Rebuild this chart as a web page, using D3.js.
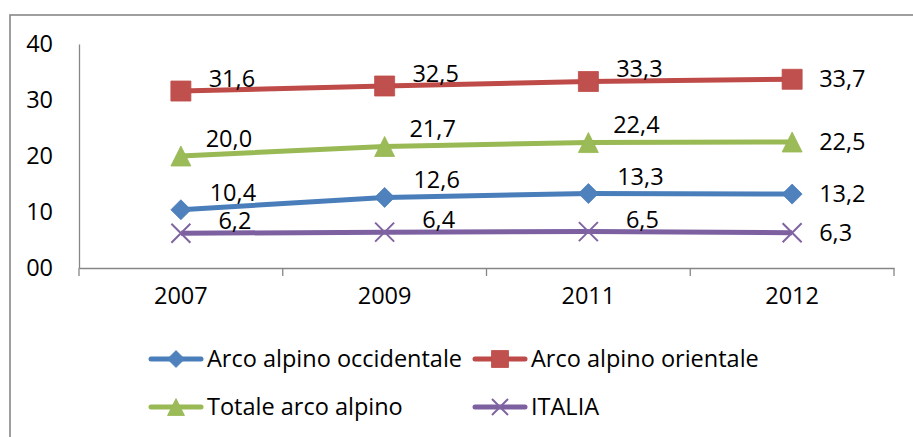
<!DOCTYPE html>
<html><head><meta charset="utf-8">
<script src="https://cdn.jsdelivr.net/npm/d3@7"></script>
<style>
html,body{margin:0;padding:0;background:#fff;}
svg{display:block;font-family:"Open Sans",sans-serif;}
</style></head>
<body>
<svg id="chart" width="913" height="437"></svg>
<script>
const years = ["2007", "2009", "2011", "2012"];
const occidentale = [10.4, 12.6, 13.3, 13.2];
const orientale = [31.6, 32.5, 33.3, 33.7];
const totale = [20.0, 21.7, 22.4, 22.5];
const italia = [6.2, 6.4, 6.5, 6.3];
const seriesNames = ["Arco alpino occidentale", "Arco alpino orientale", "Totale arco alpino", "ITALIA"];
const yTicks = [0, 10, 20, 30, 40];
const yTickLabels = ["00", "10", "20", "30", "40"];

const series = [
  {name: seriesNames[0], values: occidentale, color: "#4A7EBB", fill: "#4F81BD", marker: "diamond", ldx: 52, ldy: -9},
  {name: seriesNames[1], values: orientale, color: "#BE4B48", fill: "#C0504D", marker: "square", ldx: 51, ldy: -4.5},
  {name: seriesNames[2], values: totale, color: "#98B954", fill: "#9BBB59", marker: "triangle", ldx: 48, ldy: -9.5},
  {name: seriesNames[3], values: italia, color: "#7D60A0", fill: "#8064A2", marker: "x", ldx: 54, ldy: -4}
];

const svg = d3.select("#chart");
const FS = 23.5;

// outer border (top and left visible)
svg.append("rect").attr("x", 10).attr("y", 15).attr("width", 920).attr("height", 440)
  .attr("fill", "none").attr("stroke", "#878787").attr("stroke-width", 1.6);

const x = d3.scaleBand().domain(years).range([79, 894]);
const y = d3.scaleLinear().domain([0, 40]).range([268, 44]);

// y axis
const gy = svg.append("g").attr("transform", "translate(79,0)")
  .call(d3.axisLeft(y).tickValues(yTicks).tickSize(0).tickPadding(26)
    .tickFormat((d, i) => yTickLabels[i]));
gy.select(".domain").attr("stroke", "#868686").attr("stroke-width", 1.3);
gy.selectAll("text").attr("font-size", FS).attr("font-family", "Open Sans").attr("fill", "#000");

// x axis
const gx = svg.append("g").attr("transform", "translate(0,268)")
  .call(d3.axisBottom(x).tickSize(0).tickPadding(19));
gx.select(".domain").attr("stroke", "#868686").attr("stroke-width", 1.3);
gx.selectAll("text").attr("font-size", FS).attr("font-family", "Open Sans").attr("fill", "#000");
const bounds = years.map(d => x(d)).concat([x(years[years.length - 1]) + x.bandwidth()]);
svg.append("g").selectAll("line").data(bounds).join("line")
  .attr("x1", d => d).attr("x2", d => d).attr("y1", 268).attr("y2", 276)
  .attr("stroke", "#868686").attr("stroke-width", 1.3);

function markerPath(type, s) {
  const h = s / 2;
  if (type === "diamond") return `M0,${-h}L${h},0L0,${h}L${-h},0Z`;
  if (type === "square") return `M${-h},${-h}H${h}V${h}H${-h}Z`;
  if (type === "triangle") return `M0,${-h}L${h},${h}L${-h},${h}Z`;
  return `M${-h},${-h}L${h},${h}M${h},${-h}L${-h},${h}`;
}
function drawMarker(g, s, type, size) {
  const p = g.append("path").attr("d", markerPath(type, size));
  if (type === "x") p.attr("fill", "none").attr("stroke", s.fill).attr("stroke-width", 2);
  else p.attr("fill", s.fill).attr("stroke", s.color).attr("stroke-width", 0.8);
}

const cx = d => x(d) + x.bandwidth() / 2;
const line = d3.line().x((d, i) => cx(years[i])).y(d => y(d));
const fmt = v => d3.format(".1f")(v).replace(".", ",");

series.forEach(s => {
  const g = svg.append("g");
  g.append("path").attr("d", line(s.values)).attr("fill", "none")
    .attr("stroke", s.color).attr("stroke-width", 5).attr("stroke-linejoin", "round");
  s.values.forEach((v, i) => {
    const mg = g.append("g").attr("transform", `translate(${cx(years[i])},${y(v)})`);
    drawMarker(mg, s, s.marker, s.marker === "x" ? 19 : 20);
  });
});

// data labels
series.forEach(s => {
  const n = s.values.length;
  svg.append("g").selectAll("text").data(s.values).join("text")
    .attr("font-size", FS).attr("font-family", "Open Sans").attr("fill", "#000")
    .attr("x", (v, i) => i === n - 1 ? cx(years[i]) + 27 : cx(years[i]) + s.ldx)
    .attr("y", (v, i) => i === n - 1 ? y(v) + 8 : y(v) + s.ldy)
    .attr("text-anchor", (v, i) => i === n - 1 ? "start" : "middle")
    .text(v => fmt(v));
});

// legend
const legendPos = [[149, 359], [473, 359], [149, 407], [473, 407]];
series.forEach((s, i) => {
  const [lx, ly] = legendPos[i];
  const g = svg.append("g").attr("transform", `translate(${lx},${ly})`);
  g.append("line").attr("x1", 2).attr("x2", 52).attr("stroke", s.color)
    .attr("stroke-width", 5).attr("stroke-linecap", "round");
  const mg = g.append("g").attr("transform", "translate(27,0)");
  drawMarker(mg, s, s.marker, s.marker === "x" ? 16 : 17);
  g.append("text").attr("x", 58).attr("y", 7.5).attr("font-size", FS)
    .attr("font-family", "Open Sans").attr("fill", "#000").text(s.name);
});
</script>
</body></html>
